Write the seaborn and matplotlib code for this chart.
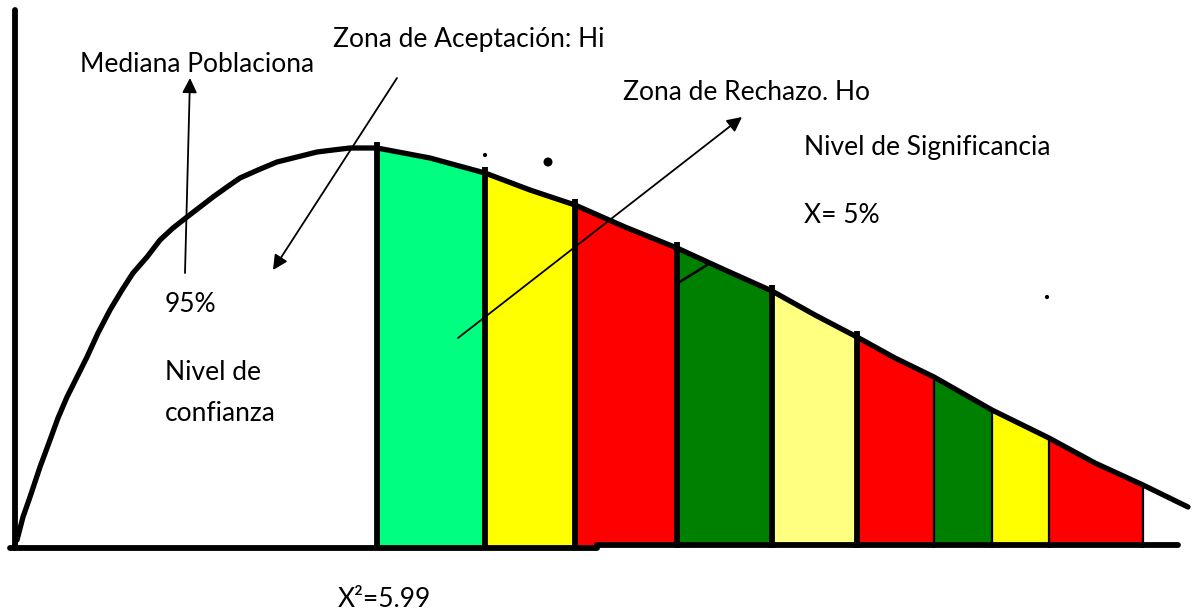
import numpy as np
import matplotlib
matplotlib.use("Agg")
import matplotlib.pyplot as plt
from matplotlib.patches import Rectangle
import seaborn as sns

# Hand drawn chi-square sketch.
# x to the right, y measured down from the top edge (image units)
curve_x = [17, 23, 30, 40, 50, 58, 67, 77, 87, 98, 110, 122, 133, 147, 160, 173,
           187, 200, 213, 227, 240, 258, 277, 297, 317, 333, 350, 377,
           430, 485, 530, 575, 625, 677, 725, 772, 815, 857, 895, 934, 992, 1049,
           1095, 1143, 1188]
curve_y = [540, 517, 497, 467, 440, 418, 397, 377, 357, 333, 310, 290, 273, 257, 240, 228,
           217, 207, 197, 187, 178, 170, 162, 157, 152, 150, 148, 148,
           158, 173, 190, 205, 227, 248, 270, 291, 315, 337, 358, 377, 410, 438,
           463, 485, 507]

band_edges = [377, 485, 575, 677, 772, 857, 934, 992, 1049, 1143]
band_colors = ["#00FF80", "#FFFF00", "#FF0000", "#008000", "#FFFF80",
               "#FF0000", "#008000", "#FFFF00", "#FF0000"]
edge_widths = [4.2, 4.2, 4.2, 4.2, 4.2, 4.2, 1.6, 1.6, 1.6, 1.6]

baseline_left = ([10, 597], 548)
baseline_right = ([597, 1178], 545)
yaxis_x, yaxis_top = 15, 10

labels = [
    ("Mediana Poblacional", 80, 72),
    ("Zona de Aceptación: Hi", 333, 47),
    ("Zona de Rechazo. Ho", 623, 100),
    ("Nivel de Significancia", 804, 155),
    ("X= 5%", 804, 223),
    ("95%", 165, 312),
    ("Nivel de", 165, 380),
    ("confianza", 165, 421),
    ("X²=5.99", 338, 607),
]

# (tail, tip) of the three pointers
arrows = [
    ((185, 273), (190, 78)),
    ((397, 78), (273, 270)),
    ((458, 338), (742, 117)),
]

FS = 19

sns.set_theme(style="white")
plt.rcParams["font.family"] = ["Lato", "DejaVu Sans"]

fig = plt.figure(figsize=(11.92, 6.13), dpi=100)
ax = fig.add_axes([0, 0, 1, 1])
ax.set_xlim(0, 1192)
ax.set_ylim(613, 0)
ax.axis("off")

xs = np.array(curve_x)
ys = np.array(curve_y)

# coloured rejection bands under the curve
for a, b, c in zip(band_edges[:-1], band_edges[1:], band_colors):
    m = (xs >= a) & (xs <= b)
    ax.fill_between(xs[m], ys[m], baseline_right[1], color=c, lw=0, zorder=1)

# band separators
for x, w in zip(band_edges, edge_widths):
    top = np.interp(x, xs, ys)
    ax.vlines(x, top - 6 if w > 2 else top, baseline_left[1], color="black", lw=w, zorder=3)

sns.lineplot(x=curve_x, y=curve_y, sort=False, estimator=None, color="black",
             lw=3.8, ax=ax, zorder=4, solid_joinstyle="round", solid_capstyle="round")

# axes as drawn
ax.plot([yaxis_x, yaxis_x], [yaxis_top, baseline_left[1]], color="black", lw=4.2,
        solid_capstyle="round", zorder=4)
ax.plot(baseline_left[0], [baseline_left[1]] * 2, color="black", lw=4.2, zorder=4)
ax.plot(baseline_right[0], [baseline_right[1]] * 2, color="black", lw=4.2, zorder=4)

for txt, x, y in labels:
    ax.text(x, y, txt, fontsize=FS, va="baseline", ha="left", color="black", zorder=5)

# the first label is cut off by the box of the second one
ax.add_patch(Rectangle((313, 50), 80, 35, facecolor="white", edgecolor="none", zorder=6))

for tail, tip in arrows:
    ax.annotate("", xy=tip, xytext=tail, zorder=8,
                arrowprops=dict(arrowstyle="-|>", color="black", lw=1.3,
                                mutation_scale=22, shrinkA=0, shrinkB=0))

# small stray strokes in the drawing
ax.plot([678, 707], [283, 265], color="black", lw=1.8, zorder=4)
ax.scatter([548, 485, 1047], [162, 155, 297], s=[30, 4, 4], color="black", zorder=4)

fig.savefig("out.png", dpi=100, facecolor="white")
